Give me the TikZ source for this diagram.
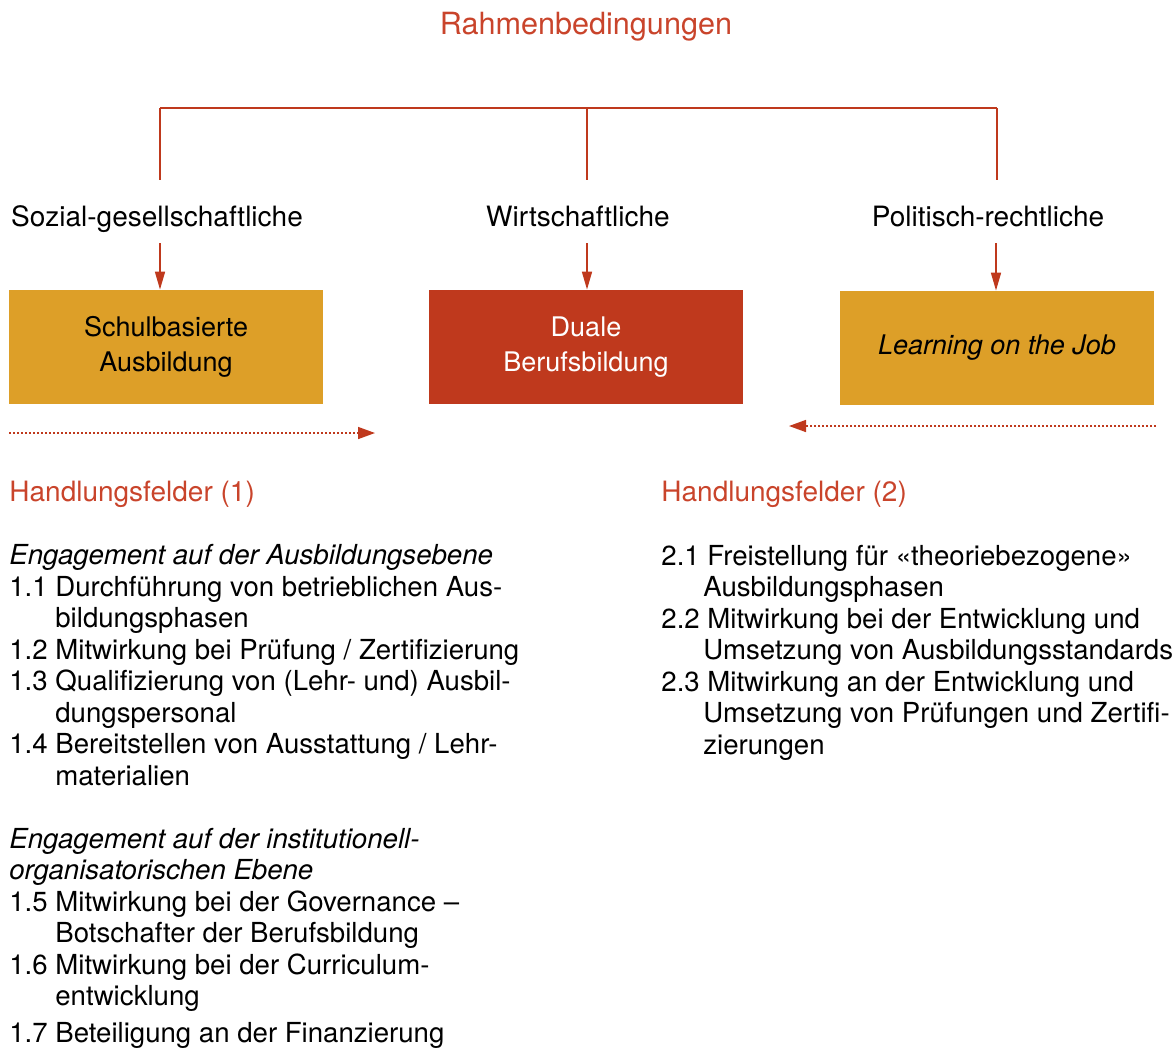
\documentclass[tikz,border=0pt]{standalone}
\usepackage{fontspec}
\setmainfont{TeX Gyre Heros}
\usepackage{tikz}
\usetikzlibrary{arrows.meta, positioning}

\definecolor{dualred}{RGB}{191,57,29}
\definecolor{headred}{RGB}{201,68,43}
\definecolor{schoolgold}{RGB}{221,159,40}
\newcommand{\indl}{\hspace*{23pt}}
\newcommand{\indr}{\hspace*{21pt}}

\begin{document}
\begin{tikzpicture}[x=0.5pt, y=-0.5pt,
    every node/.style={font=\fontsize{14}{16}\selectfont, inner sep=0pt},
    factor/.style={anchor=base},
    areabox/.style={rectangle, fill=schoolgold, minimum width=157pt, minimum height=57pt,
        align=center, font=\fontsize{13.5}{17.5}\selectfont},
    heading/.style={text=headred, anchor=base west},
    itemlist/.style={anchor=base west, align=left, font=\fontsize{13.8}{15.75}\selectfont},
    bar/.style={draw=dualred, line width=0.8pt},
    arr/.style={bar, -{Triangle[length=9pt, width=5pt]}},
    dotarr/.style={draw=dualred, line width=0.75pt, dash pattern=on 1pt off 1pt,
        -{Triangle[length=8.5pt, width=6pt]}}]
    \useasboundingbox (0,0) rectangle (1173,1056);

    % Rahmenbedingungen
    \node[text=headred, anchor=base, font=\fontsize{15.3}{18}\selectfont] (rahmen) at (586,34) {Rahmenbedingungen};
    \coordinate (b1) at (160,108);
    \coordinate (b2) at (587,108);
    \coordinate (b3) at (997,108);
    \draw[bar, line width=1pt] (b1) -- (b3);
    \draw[bar] (b1) -- ++(0,72);
    \draw[bar] (b2) -- ++(0,72);
    \draw[bar] (b3) -- ++(0,72);

    \node[factor] (soz) at (157,226) {Sozial-gesellschaftliche};
    \node[factor] (wirt) at (578,226) {Wirtschaftliche};
    \node[factor] (pol) at (988,226) {Politisch-rechtliche};

    % Ausbildungsformen
    \node[areabox] (schul) at (166,347) {Schulbasierte\\Ausbildung};
    \node[areabox, fill=dualred, text=white] (dual) at (586,347) {Duale\\Berufsbildung};
    \node[areabox] (lotj) at (997,348) {\textit{Learning on the Job}};

    \coordinate (a1) at (160,243);
    \coordinate (a2) at (587,243);
    \coordinate (a3) at (996,243);
    \draw[arr] (a1) -- (a1 |- schul.north);
    \draw[arr] (a2) -- (a2 |- dual.north);
    \draw[arr] (a3) -- (a3 |- lotj.north);

    % Handlungsfelder
    \coordinate (d1) at (9,433);
    \coordinate (d2) at (375,433);
    \coordinate (d3) at (1156,426);
    \coordinate (d4) at (789,426);
    \draw[dotarr] (d1) -- (d2);
    \draw[dotarr] (d3) -- (d4);

    \node[heading] (hf1) at (9,501) {Handlungsfelder (1)};
    \node[heading] (hf2) at (661,501) {Handlungsfelder (2)};

    % base = last line
    \node[itemlist] (list1) at (9,1042) {%
        \textit{Engagement auf der Ausbildungsebene}\\
        1.1 Durchführung von betrieblichen Aus-\\
        \indl bildungsphasen\\
        1.2 Mitwirkung bei Prüfung / Zertifizierung\\
        1.3 Qualifizierung von (Lehr- und) Ausbil-\\
        \indl dungspersonal\\
        1.4 Bereitstellen von Ausstattung / Lehr-\\
        \indl materialien\\[15.75pt]
        \textit{Engagement auf der institutionell-}\\
        \textit{organisatorischen Ebene}\\
        1.5 Mitwirkung bei der Governance –\\
        \indl Botschafter der Berufsbildung\\
        1.6 Mitwirkung bei der Curriculum-\\
        \indl entwicklung\\[2.5pt]
        1.7 Beteiligung an der Finanzierung};

    \node[itemlist] (list2) at (661,754) {%
        2.1 Freistellung für «theoriebezogene»\\
        \indr Ausbildungsphasen\\
        2.2 Mitwirkung bei der Entwicklung und\\
        \indr Umsetzung von Ausbildungsstandards\\
        2.3 Mitwirkung an der Entwicklung und\\
        \indr Umsetzung von Prüfungen und Zertifi-\\
        \indr zierungen};
\end{tikzpicture}
\end{document}
